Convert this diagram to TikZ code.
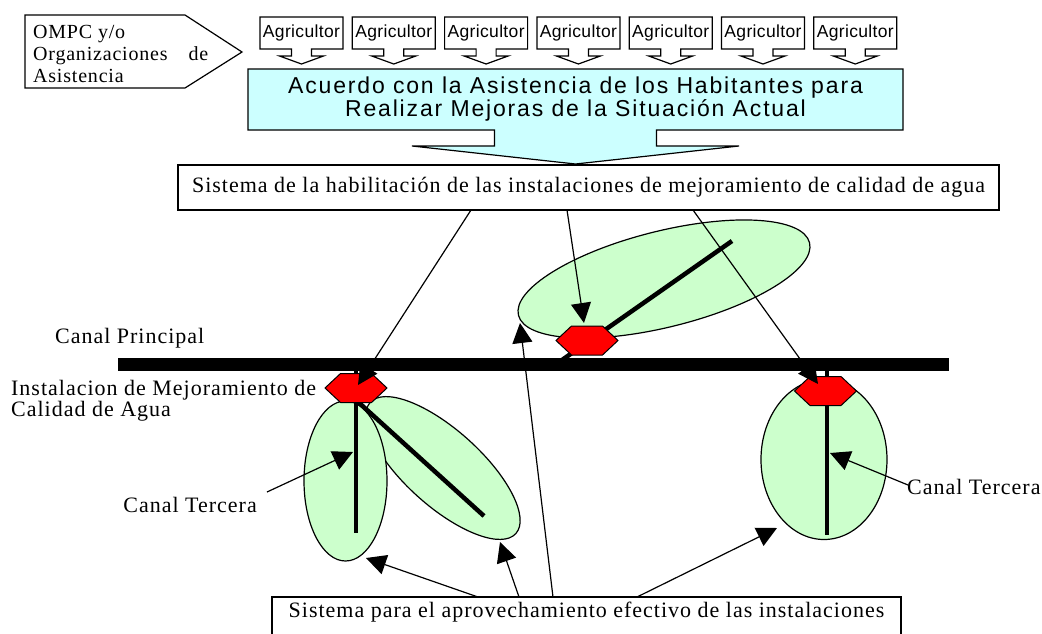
\documentclass[tikz,border=0pt]{standalone}
\usepackage{fontspec}
\setmainfont{Liberation Serif}
\setsansfont{Liberation Sans}
\newfontfamily\lblfont{Liberation Serif}[LetterSpace=4.5]
\newfontfamily\ompcfont{Liberation Serif}[LetterSpace=4]
\newfontfamily\agrfont{Liberation Sans}[LetterSpace=2]
\newfontfamily\acufont{Liberation Sans}[LetterSpace=8]
\usetikzlibrary{shapes.geometric,arrows.meta,backgrounds}
\definecolor{fieldgreen}{HTML}{CCFFCC}
\definecolor{acucyan}{HTML}{CCFFFF}

\begin{document}
\begin{tikzpicture}[x=1pt, y=1pt,
  outl/.style={line width=1.2pt},
  conn/.style={line width=1.2pt, -{Triangle[length=20pt,width=20pt]}},
  canal/.style={line width=4.5pt},
  field/.style={ellipse, draw, line width=1.2pt, fill=fieldgreen, inner sep=0pt, outer sep=0pt},
  valve/.style={regular polygon, regular polygon sides=6, minimum size=62pt, inner sep=0pt, draw, line width=1pt, fill=red, yscale=0.54, transform shape},
  agri/.style={minimum width=83pt, minimum height=32pt, inner sep=0pt, outer sep=0pt, text height=12.5pt, text depth=3.5pt, font=\agrfont\fontsize{17.5}{19}\selectfont},
  lbl/.style={inner sep=0pt, font=\lblfont\fontsize{22}{21}\selectfont},
  sysbox/.style={draw, line width=1.2pt, inner sep=0pt, outer sep=0pt, text height=15pt, text depth=5pt, font=\lblfont\fontsize{22}{21}\selectfont}]
\useasboundingbox (0,0) rectangle (1042,-633);

% OMPC
\draw[outl] (25,-15) -- (185,-15) -- (242,-52) -- (185,-88) -- (25,-88) -- cycle;
\node[inner sep=0pt, align=left, anchor=west, font=\ompcfont\fontsize{20}{22}\selectfont] (ompc) at (33,-53.75) {OMPC y/o\\\makebox[175pt][s]{Organizaciones de}\\Asistencia};

% Agricultores
\foreach \i in {1,...,7}{
  \node[agri] (agr\i) at ({301.5+92.3*(\i-1)},-33) {Agricultor};
  \draw[outl] (agr\i.north west) -- (agr\i.north east) -- (agr\i.south east) -- ([xshift=10pt]agr\i.south) -- ++(0,-7) -- ++(12,0) -- ([yshift=-15pt]agr\i.south) -- ([shift={(-22pt,-7pt)}]agr\i.south) -- ++(12,0) -- ++(0,7) -- (agr\i.south west) -- cycle;
}

% Acuerdo
\node[inner sep=0pt, outer sep=0pt, minimum width=655pt, minimum height=61pt, align=center, font=\acufont\fontsize{23}{23}\selectfont] (acu) at (575.5,-99.5) {Acuerdo con la Asistencia de los Habitantes para\\Realizar Mejoras de la Situación Actual};
\begin{scope}[on background layer]
\draw[outl, fill=acucyan] (acu.north west) -- (acu.north east) -- (acu.south east) -- ([xshift=81pt]acu.south) -- ++(0,-16) -- ++(82.5,0) -- ([yshift=-34pt]acu.south) -- ([shift={(-163.5pt,-16pt)}]acu.south) -- ++(82.5,0) -- ++(0,16) -- (acu.south west) -- cycle;
\end{scope}

% Sistemas
\node[sysbox, minimum width=821pt, minimum height=45pt] (habil) at (588.5,-187.5) {Sistema de la habilitación de las instalaciones de mejoramiento de calidad de agua};
\node[sysbox, minimum width=629pt, text depth=20pt, inner sep=5pt, anchor=north] (aprov) at (586.5,-597) {Sistema para el aprovechamiento efectivo de las instalaciones};

% Areas
\node[field, minimum width=196pt, minimum height=76pt, rotate=-42] (f2) at (443,-468) {};
\node[field, minimum width=83pt, minimum height=160pt] (f3) at (345.5,-481) {};
\node[field, minimum width=300pt, minimum height=96pt, rotate=14] (f1) at (664,-279) {};
\node[field, minimum width=126pt, minimum height=160pt] (f4) at (824,-459.5) {};

% Canales
\draw[canal] (356,-364) -- (356,-533);
\draw[canal] (356,-400) -- (484,-516);
\draw[canal] (562,-360) -- (732,-241);
\draw[canal] (827,-364) -- (827,-535);
\draw[line width=12.5pt] (118,-364.5) -- (949,-364.5);

% Instalaciones
\node[valve] (v1) at (356,-388) {};
\node[valve] (v2) at (587,-340.5) {};
\node[valve] (v3) at (825.5,-391) {};

% Textos
\node[lbl, anchor=base west] (principal) at (55,-343) {Canal Principal};
\node[lbl, anchor=west, align=left] (instal) at (11,-400.6) {Instalacion de Mejoramiento de\\Calidad de Agua};
\node[lbl, anchor=base east] (tercL) at (257,-512) {Canal Tercera};
\node[lbl, anchor=base west] (tercR) at (907,-494) {Canal Tercera};

% Flechas
\coordinate (tip1) at (358,-385);
\coordinate (tip2) at (584,-323);
\coordinate (tip3) at (818,-384);
\coordinate (tipA) at (366,-558);
\coordinate (tipB) at (500,-542);
\coordinate (tipC) at (520,-323);
\coordinate (tipD) at (777,-528);
\coordinate (tipL) at (353,-452);
\coordinate (tipR) at (830,-453);
\coordinate (srcL) at (267,-492);
\coordinate (srcR) at (908,-485);

\draw[conn] ([xshift=293pt]habil.south west) -- (tip1);
\draw[conn] ([xshift=389pt]habil.south west) -- (tip2);
\draw[conn] ([xshift=515pt]habil.south west) -- (tip3);
\draw[conn] ([xshift=206pt]aprov.north west) -- (tipA);
\draw[conn] ([xshift=247pt]aprov.north west) -- (tipB);
\draw[conn] ([xshift=281pt]aprov.north west) -- (tipC);
\draw[conn] ([xshift=365pt]aprov.north west) -- (tipD);
\draw[conn] (srcL) -- (tipL);
\draw[conn] (srcR) -- (tipR);
\end{tikzpicture}
\end{document}
